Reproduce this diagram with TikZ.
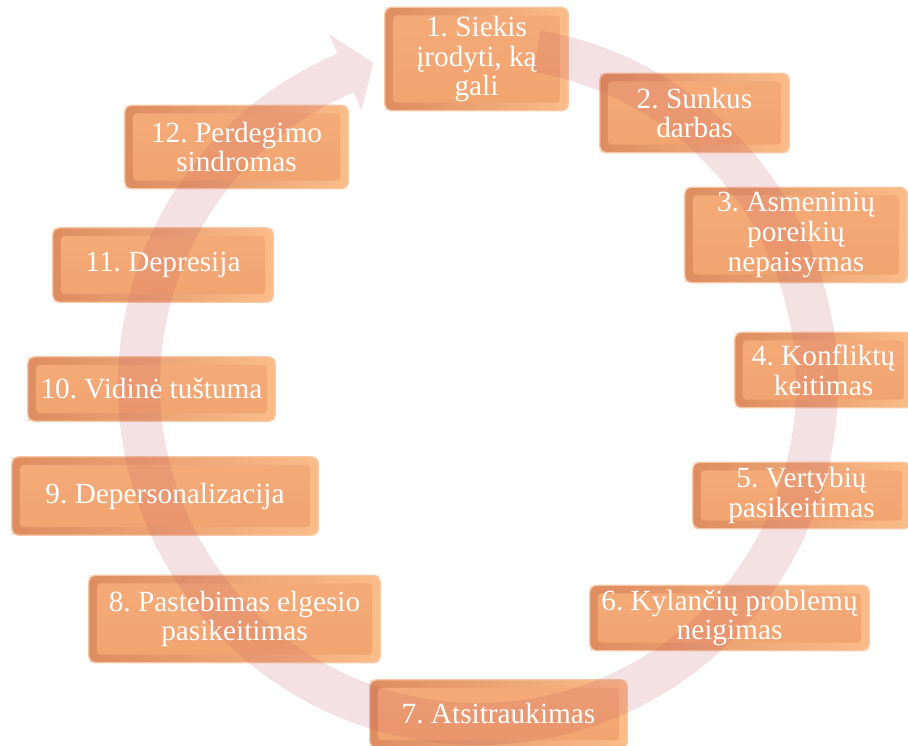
\documentclass[tikz,border=0pt]{standalone}
\usepackage{fontspec}
\setmainfont{Liberation Serif}
\usetikzlibrary{positioning}
\usepackage{xcolor}

\pgfdeclarelayer{back}
\pgfdeclarelayer{ringlayer}
\pgfsetlayers{back,ringlayer,main}

\definecolor{boxorange}{RGB}{242,164,112}
\definecolor{boxtop}{RGB}{244,170,120}
\definecolor{boxdark}{RGB}{222,140,96}
\definecolor{boxlight}{RGB}{250,188,136}
\definecolor{boxedge}{RGB}{247,200,166}
\definecolor{ringpink}{RGB}{190,80,95}

\tikzset{
  stage/.style={text=white, align=center, inner sep=0pt,
    font=\fontsize{25}{25.5}\selectfont},
  stagebox/.style={rounded corners=6pt, left color=boxdark, right color=boxlight,
    draw=boxedge, line width=1.2pt},
  stagetop/.style={rounded corners=3pt, top color=boxtop, bottom color=boxorange}
}

\begin{document}
\frenchspacing
\begin{tikzpicture}[x=0.03cm, y=-0.03cm]
\useasboundingbox (0,0) rectangle (908,745);

% stages
\node (s1) at (476.5,59) [stage, minimum width=5.49cm, minimum height=3.09cm] {1. Siekis\\įrodyti, ką\\gali};
\node (s2) at (694.5,113) [stage, minimum width=5.67cm, minimum height=2.37cm] {2. Sunkus\\darbas};
\node (s3) at (796,235) [stage, minimum width=6.66cm, minimum height=2.85cm] {3. Asmeninių\\poreikių\\nepaisymas};
\node (s4) at (823.5,370) [stage, minimum width=5.31cm, minimum height=2.25cm] {4. Konfliktų\\keitimas};
\node (s5) at (801.5,495.5) [stage, minimum width=6.51cm, minimum height=1.98cm] {5. Vertybių\\pasikeitimas};
\node (s6) at (729.5,618) [stage, minimum width=8.37cm, minimum height=1.95cm] {6. Kylančių problemų\\neigimas};
\node (s7) at (498.5,714) [stage, minimum width=7.71cm, minimum height=2.04cm] {7. Atsitraukimas};
\node (s8) at (234.5,619) [stage, minimum width=8.73cm, minimum height=2.61cm] {8. Pastebimas elgesio\\pasikeitimas};
\node (s9) at (165,496) [stage, minimum width=9.18cm, minimum height=2.34cm] {9. Depersonalizacija};
\node (s10) at (151.5,389) [stage, minimum width=7.41cm, minimum height=1.92cm] {10. Vidinė tuštuma};
\node (s11) at (163,265) [stage, minimum width=6.6cm, minimum height=2.22cm] {11. Depresija};
\node (s12) at (236.5,147) [stage, minimum width=6.69cm, minimum height=2.49cm] {12. Perdegimo\\sindromas};

% bevelled boxes
\begin{pgfonlayer}{back}
\foreach \i in {1,...,12}{
  \shade[stagebox] (s\i.south west) rectangle (s\i.north east);
  \shade[stagetop] ([xshift=7pt,yshift=7pt]s\i.south west) rectangle ([xshift=-7pt,yshift=-7pt]s\i.north east);
  \draw[boxdark, very thin] (s\i.south west) -- ++(7pt,7pt);
  \draw[boxdark!70!boxorange, very thin] (s\i.north west) -- ++(7pt,-7pt);
  \draw[boxlight, very thin] (s\i.south east) -- ++(-7pt,7pt);
  \draw[boxlight, very thin] (s\i.north east) -- ++(-7pt,-7pt);
}
\end{pgfonlayer}

% circular arrow
\begin{pgfonlayer}{ringlayer}
\begin{scope}[shift={(478,385)}, x=1cm, y=1cm]
\fill[ringpink, opacity=0.17] (80:10.8) arc[start angle=80, end angle=-247, radius=10.8]
  -- (-247:11.43) -- (-252:10.17) -- (-247:8.94) -- (-247:9.54)
  arc[start angle=-247, end angle=80, radius=9.54] -- cycle;
\end{scope}
\end{pgfonlayer}

\end{tikzpicture}
\end{document}
